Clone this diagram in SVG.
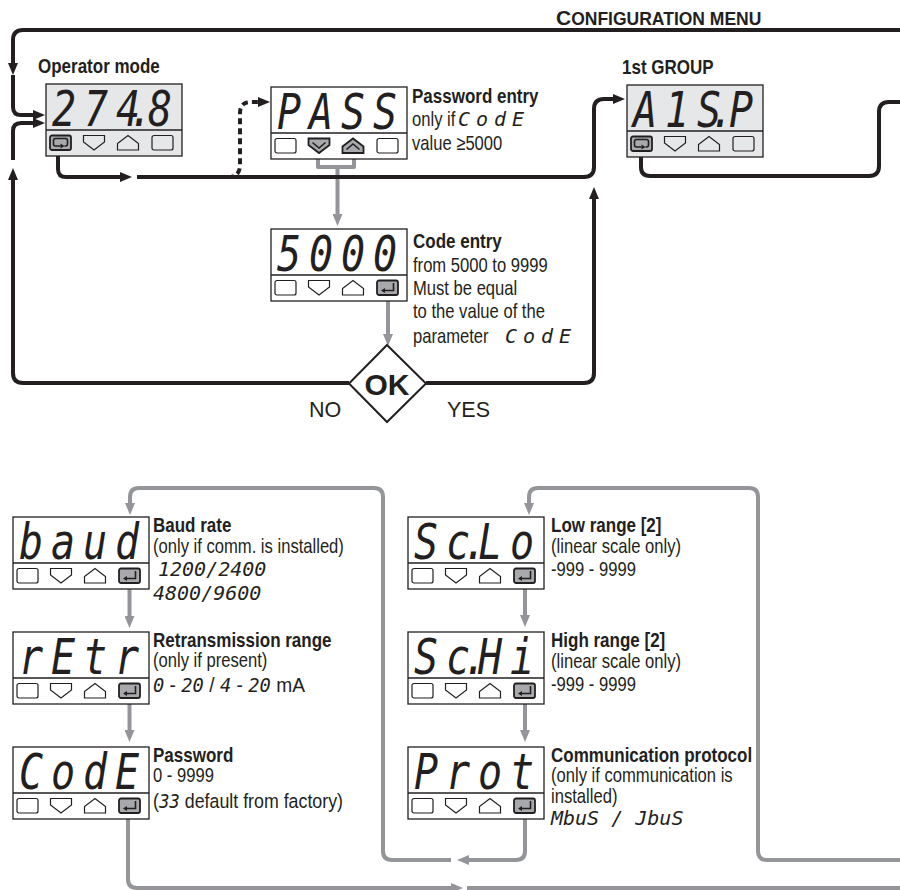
<svg xmlns="http://www.w3.org/2000/svg" width="900" height="890" viewBox="0 0 900 890">
<style>
.k{stroke:#231f20;stroke-width:4;fill:none;stroke-linejoin:round}
.kd{stroke:#231f20;stroke-width:4;fill:none;stroke-dasharray:6 4}
.g{stroke:#939598;stroke-width:4;fill:none;stroke-linejoin:round}
.fr{stroke:#231f20;stroke-width:1.3}
.bt{fill:none;stroke:#231f20;stroke-width:1.2}
.bh{fill:#a7a9ac;stroke:#231f20;stroke-width:1.8}
.ic{fill:none;stroke:#231f20;stroke-width:1.6}
.h{font-family:"Liberation Sans",sans-serif;font-weight:bold;font-size:21px;fill:#231f20}
.t{font-family:"Liberation Sans",sans-serif;font-size:20.5px;fill:#231f20}
.seg{font-family:"DejaVu Sans Mono",monospace;font-style:oblique;font-size:50px;fill:#231f20}
.ss{font-family:"DejaVu Sans Mono",monospace;font-style:oblique;font-size:20px;fill:#231f20}
.w{font-family:"Liberation Sans",sans-serif;fill:#231f20}
</style>
<defs>
<marker id="ah" viewBox="0 0 12 10" refX="5" refY="5" markerWidth="12" markerHeight="10" markerUnits="userSpaceOnUse" orient="auto"><path d="M0,0 L12,5 L0,10 z" fill="#231f20"/></marker>
<marker id="ahg" viewBox="0 0 12 10" refX="5" refY="5" markerWidth="12" markerHeight="10" markerUnits="userSpaceOnUse" orient="auto"><path d="M0,0 L12,5 L0,10 z" fill="#939598"/></marker>
<g id="frame"><rect class="fr" x="0" y="0" width="136" height="72"/><line class="fr" x1="0" y1="46" x2="136" y2="46"/></g>
<g id="bRect"><rect class="bt" x="0.5" y="0.5" width="21" height="14.5" rx="2"/></g>
<g id="bDown"><path class="bt" d="M0.5,0.5 H21.5 V7 L11,15 L0.5,7 Z"/></g>
<g id="bUp"><path class="bt" d="M0.5,15 H21.5 V8.5 L11,0.5 L0.5,8.5 Z"/></g>
<g id="bLoop"><rect class="bh" x="0.5" y="0.5" width="21" height="14.5" rx="2"/><path class="ic" d="M11,11 H6 Q4,11 4,9 V5.5 Q4,3.5 6,3.5 H16 Q18,3.5 18,5.5 V9 Q18,11 16,11 H15"/><path d="M11,8.5 L15,11 L11,13.5 Z" fill="#231f20"/></g>
<g id="bEnter"><rect class="bh" x="0.5" y="0.5" width="21" height="14.5" rx="2"/><path class="ic" d="M17,3 V10.5 H8"/><path d="M4.5,10.5 L8.5,8 L8.5,13 Z" fill="#231f20"/></g>
<g id="bDownH"><path class="bh" d="M0.5,0.5 H21.5 V7 L11,15 L0.5,7 Z"/><path class="ic" d="M4.5,4.5 L11,10 L17.5,4.5"/></g>
<g id="bUpH"><path class="bh" d="M0.5,15 H21.5 V8.5 L11,0.5 L0.5,8.5 Z"/><path class="ic" d="M4.5,11.5 L11,6 L17.5,11.5"/></g>
</defs>
<rect width="900" height="890" fill="#fff"/>

<g id="connectors">
<path class="g" d="M318,153 V167 H354 V153"/>
<path class="g" d="M337.5,167 V219" marker-end="url(#ahg)"/>
<path class="g" d="M388,295 V339" marker-end="url(#ahg)"/>
<path class="g" d="M129.5,583 V621" marker-end="url(#ahg)"/>
<path class="g" d="M129.5,698 V735" marker-end="url(#ahg)"/>
<path class="g" d="M525,583 V620" marker-end="url(#ahg)"/>
<path class="g" d="M525,698 V735" marker-end="url(#ahg)"/>
<path class="g" d="M525,813 V851 Q525,860 516,860 H464" marker-end="url(#ahg)"/>
<path class="g" d="M451,860 H392 Q383,860 383,851 V497 Q383,488 374,488 H139 Q130,488 130,497 V508" marker-end="url(#ahg)"/>
<path class="g" d="M900,860 H767 Q758,860 758,851 V497 Q758,488 749,488 H538 Q529,488 529,497 V508" marker-end="url(#ahg)"/>
<path class="g" d="M128,813 V879 Q128,888 137,888 H456" marker-end="url(#ahg)"/>
<path class="g" d="M467,888 H900"/>

<path class="k" d="M13,75 V107 Q13,115 21,115 H38" marker-end="url(#ah)"/>
<path class="k" d="M900,30 H23 Q13,30 13,40 V68" marker-end="url(#ah)"/>
<path class="k" d="M349,383 H23 Q13,383 13,373 V175" marker-end="url(#ah)"/>
<path class="k" d="M13,160 V131 Q13,123 21,123 H38" marker-end="url(#ah)"/>
<path class="k" d="M58,151 V169 Q58,177 66,177 H125" marker-end="url(#ah)"/>
<path class="kd" d="M228,177 Q240,177 240,165 V113 Q240,102 251,102 H263" marker-end="url(#ah)"/>
<path class="k" d="M137,177 H584 Q594,177 594,167 V109 Q594,99 604,99 H618" marker-end="url(#ah)"/>
<path class="k" d="M426,383 H584 Q594,383 594,373 V194" marker-end="url(#ah)"/>
<path class="k" d="M641,151 V167 Q641,176 650,176 H869 Q879,176 879,166 V112 Q879,102 889,102 H900"/>
</g>

<g id="title"><text class="w" x="556" y="25" font-weight="bold"><tspan font-size="21">C</tspan><tspan font-size="17.5">ONFIGURATION MENU</tspan></text></g>

<g id="n-operator">
<text class="h" transform="translate(38,0) scale(0.81,1)" x="0" y="73">Operator mode</text>
<use href="#frame" x="46" y="84" fill="#e6e7e8"/>
<text class="seg" transform="translate(46,84) scale(0.8,1)" x="7.5 47.5 87.5 103.75 127.5" y="42">274.8</text>
<use href="#bLoop" x="49.5" y="135"/><use href="#bDown" x="83" y="135"/><use href="#bUp" x="117" y="135"/><use href="#bRect" x="151.5" y="135"/>
</g>

<g id="n-pass">
<use href="#frame" x="271" y="87" fill="#fff"/>
<text class="seg" transform="translate(271,87) scale(0.8,1)" x="7.5 47.5 87.5 127.5" y="42">PASS</text>
<use href="#bRect" x="274.5" y="138"/><use href="#bDownH" x="308" y="138"/><use href="#bUpH" x="342" y="138"/><use href="#bRect" x="376.5" y="138"/>
<g transform="translate(412,0) scale(0.81,1)">
<text class="h" x="0" y="103">Password entry</text>
<text class="t" x="0" y="126">only if</text>
<text class="t" x="0" y="150">value ≥5000</text>
</g>
<text class="ss" font-size="22" x="458 476 494 512" y="126">CodE</text>
</g>

<g id="n-code-entry">
<use href="#frame" x="271" y="229" fill="#fff"/>
<text class="seg" transform="translate(271,229) scale(0.8,1)" x="7.5 47.5 87.5 127.5" y="42">5000</text>
<use href="#bRect" x="274.5" y="280"/><use href="#bDown" x="308" y="280"/><use href="#bUp" x="342" y="280"/><use href="#bEnter" x="376.5" y="280"/>
<g transform="translate(413,0) scale(0.81,1)">
<text class="h" x="0" y="248">Code entry</text>
<text class="t" x="0" y="272">from 5000 to 9999</text>
<text class="t" x="0" y="295">Must be equal</text>
<text class="t" x="0" y="318">to the value of the</text>
<text class="t" x="0" y="343">parameter</text>
</g>
<text class="ss" font-size="22" x="505 523 541 559" y="343">CodE</text>
</g>

<g id="n-ok">
<polygon points="387,345 426,383.5 387,422 349,383.5" fill="#fff" stroke="#231f20" stroke-width="2"/>
<text class="w" x="387" y="395" font-size="30" font-weight="bold" text-anchor="middle">OK</text>
<text class="w" x="309" y="417" font-size="21.5">NO</text>
<text class="w" x="447" y="417" font-size="21.5">YES</text>
</g>

<g id="n-group1">
<text class="h" transform="translate(622,0) scale(0.81,1)" x="0" y="74">1st GROUP</text>
<use href="#frame" x="627" y="85" fill="#e6e7e8"/>
<text class="seg" transform="translate(627,85) scale(0.8,1)" x="7.5 47.5 87.5 103.75 127.5" y="42">A1S.P</text>
<use href="#bLoop" x="630.5" y="136"/><use href="#bDown" x="664" y="136"/><use href="#bUp" x="698" y="136"/><use href="#bRect" x="732.5" y="136"/>
</g>

<g id="n-baud">
<use href="#frame" x="13" y="517" fill="#fff"/>
<text class="seg" transform="translate(13,517) scale(0.8,1)" x="7.5 47.5 87.5 127.5" y="42">baud</text>
<use href="#bRect" x="16.5" y="568"/><use href="#bDown" x="50" y="568"/><use href="#bUp" x="84" y="568"/><use href="#bEnter" x="118.5" y="568"/>
<g transform="translate(153,0) scale(0.81,1)">
<text class="h" x="0" y="532">Baud rate</text>
<text class="t" x="0" y="553">(only if comm. is installed)</text>
</g>
<text class="ss" x="158" y="576">1200/2400</text>
<text class="ss" x="153" y="600">4800/9600</text>
</g>

<g id="n-retr">
<use href="#frame" x="13" y="632" fill="#fff"/>
<text class="seg" transform="translate(13,632) scale(0.8,1)" x="7.5 47.5 87.5 127.5" y="42">rEtr</text>
<use href="#bRect" x="16.5" y="683"/><use href="#bDown" x="50" y="683"/><use href="#bUp" x="84" y="683"/><use href="#bEnter" x="118.5" y="683"/>
<g transform="translate(153,0) scale(0.81,1)">
<text class="h" x="0" y="647">Retransmission range</text>
<text class="t" x="0" y="667">(only if present)</text>
</g>
<text class="t" x="153" y="692" textLength="152" lengthAdjust="spacingAndGlyphs"><tspan class="ss">0</tspan> - <tspan class="ss">20</tspan> / <tspan class="ss">4</tspan> - <tspan class="ss">20</tspan> mA</text>
</g>

<g id="n-codepw">
<use href="#frame" x="13" y="747" fill="#fff"/>
<text class="seg" transform="translate(13,747) scale(0.8,1)" x="7.5 47.5 87.5 127.5" y="42">CodE</text>
<use href="#bRect" x="16.5" y="798"/><use href="#bDown" x="50" y="798"/><use href="#bUp" x="84" y="798"/><use href="#bEnter" x="118.5" y="798"/>
<g transform="translate(153,0) scale(0.81,1)">
<text class="h" x="0" y="762">Password</text>
<text class="t" x="0" y="782">0 - 9999</text>
</g>
<text class="t" x="153" y="808" textLength="190" lengthAdjust="spacingAndGlyphs">(<tspan class="ss">33</tspan> default from factory)</text>
</g>

<g id="n-sclo">
<use href="#frame" x="408" y="517" fill="#fff"/>
<text class="seg" transform="translate(408,517) scale(0.8,1)" x="7.5 47.5 68.75 87.5 127.5" y="42">Sc.Lo</text>
<use href="#bRect" x="411.5" y="568"/><use href="#bDown" x="445" y="568"/><use href="#bUp" x="479" y="568"/><use href="#bEnter" x="513.5" y="568"/>
<g transform="translate(551,0) scale(0.81,1)">
<text class="h" x="0" y="532">Low range [2]</text>
<text class="t" x="0" y="553">(linear scale only)</text>
<text class="t" x="0" y="576">-999 - 9999</text>
</g>
</g>

<g id="n-schi">
<use href="#frame" x="408" y="632" fill="#fff"/>
<text class="seg" transform="translate(408,632) scale(0.8,1)" x="7.5 47.5 68.75 87.5 127.5" y="42">Sc.Hi</text>
<use href="#bRect" x="411.5" y="683"/><use href="#bDown" x="445" y="683"/><use href="#bUp" x="479" y="683"/><use href="#bEnter" x="513.5" y="683"/>
<g transform="translate(551,0) scale(0.81,1)">
<text class="h" x="0" y="647">High range [2]</text>
<text class="t" x="0" y="668">(linear scale only)</text>
<text class="t" x="0" y="691">-999 - 9999</text>
</g>
</g>

<g id="n-prot">
<use href="#frame" x="408" y="747" fill="#fff"/>
<text class="seg" transform="translate(408,747) scale(0.8,1)" x="7.5 47.5 87.5 127.5" y="42">Prot</text>
<use href="#bRect" x="411.5" y="798"/><use href="#bDown" x="445" y="798"/><use href="#bUp" x="479" y="798"/><use href="#bEnter" x="513.5" y="798"/>
<g transform="translate(551,0) scale(0.81,1)">
<text class="h" x="0" y="762">Communication protocol</text>
<text class="t" x="0" y="782">(only if communication is</text>
<text class="t" x="0" y="803">installed)</text>
</g>
<text class="ss" x="551" y="825">MbuS / JbuS</text>
</g>
</svg>
